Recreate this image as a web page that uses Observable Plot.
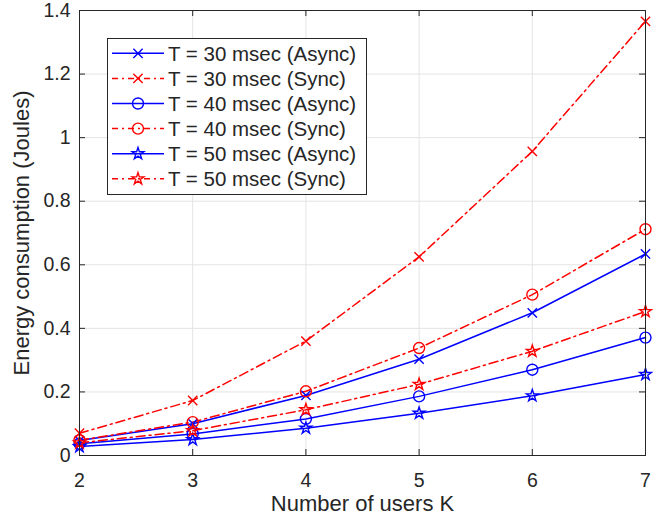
<!DOCTYPE html>
<html><head><meta charset="utf-8">
<script src="https://cdn.jsdelivr.net/npm/d3@7"></script>
<script src="https://cdn.jsdelivr.net/npm/@observablehq/plot@0.6"></script>
<style>
body{margin:0;background:#fff;}
#chart{width:666px;height:520px;}
svg{font-family:"Liberation Sans",Arial,Helvetica,sans-serif;}
</style></head><body><div id="chart"></div>
<script>
// ---- data ----
const users = [2, 3, 4, 5, 6, 7];
const t30Async = [0.047, 0.100, 0.189, 0.303, 0.449, 0.634];
const t30Sync  = [0.070, 0.173, 0.360, 0.625, 0.957, 1.366];
const t40Async = [0.037, 0.068, 0.115, 0.186, 0.270, 0.371];
const t40Sync  = [0.048, 0.105, 0.202, 0.338, 0.506, 0.712];
const t50Async = [0.028, 0.050, 0.086, 0.133, 0.188, 0.255];
const t50Sync  = [0.040, 0.078, 0.144, 0.224, 0.328, 0.453];
const seriesNames = [
  "T = 30 msec (Async)", "T = 30 msec (Sync)",
  "T = 40 msec (Async)", "T = 40 msec (Sync)",
  "T = 50 msec (Async)", "T = 50 msec (Sync)"
];
const seriesValues = [t30Async, t30Sync, t40Async, t40Sync, t50Async, t50Sync];
const xTicks = [2, 3, 4, 5, 6, 7];
const xTickLabels = ["2", "3", "4", "5", "6", "7"];
const yTicks = [0, 0.2, 0.4, 0.6, 0.8, 1, 1.2, 1.4];
const yTickLabels = ["0", "0.2", "0.4", "0.6", "0.8", "1", "1.2", "1.4"];
const xLabel = "Number of users K";
const yLabel = "Energy consumption (Joules)";

// ---- styles ----
const BLUE = "#0000ff", RED = "#ff0000", INK = "#262626", GRID = "#e3e3e3";
const DASHDOT = "9,4,2,4";
const styles = [
  {stroke: BLUE, dash: null, symbol: "times", r: 4.3},
  {stroke: RED, dash: DASHDOT, symbol: "times", r: 4.3},
  {stroke: BLUE, dash: null, symbol: "circle", r: 5.5},
  {stroke: RED, dash: DASHDOT, symbol: "circle", r: 5.5},
  {stroke: BLUE, dash: null, symbol: "star", r: 3.7},
  {stroke: RED, dash: DASHDOT, symbol: "star", r: 3.7}
];

const W = 666, H = 520, mL = 79, mR = 21, mT = 10, mB = 65;
const fw = W - mL - mR, fh = H - mT - mB;

const marks = [
  Plot.gridX(xTicks, {stroke: GRID, strokeOpacity: 1}),
  Plot.gridY(yTicks, {stroke: GRID, strokeOpacity: 1})
];
seriesValues.forEach((vals, i) => {
  const rows = users.map((u, j) => ({x: u, y: vals[j]}));
  const s = styles[i];
  marks.push(Plot.line(rows, {x: "x", y: "y", stroke: s.stroke, strokeWidth: 1.5,
    strokeDasharray: s.dash || undefined}));
});
seriesValues.forEach((vals, i) => {
  const rows = users.map((u, j) => ({x: u, y: vals[j]}));
  const s = styles[i];
  marks.push(Plot.dot(rows, {x: "x", y: "y", symbol: () => s.symbol, r: s.r,
    stroke: s.stroke, fill: "none", strokeWidth: 1.4}));
});
marks.push(
  Plot.frame({stroke: INK, strokeWidth: 1}),
  Plot.tickX(xTicks, {x: d => d, stroke: INK, insetTop: fh - 6}),
  Plot.tickX(xTicks, {x: d => d, stroke: INK, insetBottom: fh - 6}),
  Plot.tickY(yTicks, {y: d => d, stroke: INK, insetLeft: fw - 6}),
  Plot.tickY(yTicks, {y: d => d, stroke: INK, insetRight: fw - 6}),
  Plot.axisX(xTicks, {tickSize: 0, tickPadding: 18, fontSize: 19.5, fill: INK,
    tickFormat: d => xTickLabels[xTicks.indexOf(d)],
    label: xLabel, labelAnchor: "center", labelArrow: "none", labelOffset: 55}),
  Plot.axisY(yTicks, {tickSize: 0, tickPadding: 9, fontSize: 19.5, fill: INK,
    tickFormat: d => yTickLabels[yTicks.indexOf(d)],
    label: yLabel, labelAnchor: "center", labelArrow: "none", labelOffset: 66})
);

const chart = Plot.plot({
  width: W, height: H,
  marginLeft: mL, marginRight: mR, marginTop: mT, marginBottom: mB,
  x: {domain: [2, 7]},
  y: {domain: [0, 1.4]},
  style: {fontFamily: '"Liberation Sans", Arial, Helvetica, sans-serif', background: "#fff", overflow: "visible"},
  marks
});
document.getElementById("chart").appendChild(chart);

// axis label font sizes
d3.select(chart).selectAll("g[aria-label='x-axis label'] text, g[aria-label='y-axis label'] text")
  .attr("font-size", 22);

// ---- legend ----
const svg = d3.select(chart);
const lg = svg.append("g").attr("class", "legend").attr("text-anchor", "start");
const box = {x: 107.5, y: 38.5, w: 259, h: 156};
lg.append("rect").attr("x", box.x).attr("y", box.y).attr("width", box.w).attr("height", box.h)
  .attr("fill", "#fff").attr("stroke", INK).attr("stroke-width", 1);
const symMap = {times: d3.symbolTimes, circle: d3.symbolCircle, star: d3.symbolStar};
seriesNames.forEach((name, i) => {
  const s = styles[i];
  const cy = 53.3 + i * 25.1;
  lg.append("line").attr("x1", 112).attr("x2", 164).attr("y1", cy).attr("y2", cy)
    .attr("stroke", s.stroke).attr("stroke-width", 1.5)
    .attr("stroke-dasharray", s.dash ? "6,4,2,4" : null);
  lg.append("path").attr("d", d3.symbol(symMap[s.symbol], s.r * s.r * Math.PI)())
    .attr("transform", `translate(138,${cy})`)
    .attr("fill", "none").attr("stroke", s.stroke).attr("stroke-width", 1.4);
  lg.append("text").attr("x", 168).attr("y", cy).attr("dy", "0.36em")
    .attr("text-anchor", "start")
    .attr("font-size", 20.5).attr("fill", INK).text(name);
});
</script></body></html>
